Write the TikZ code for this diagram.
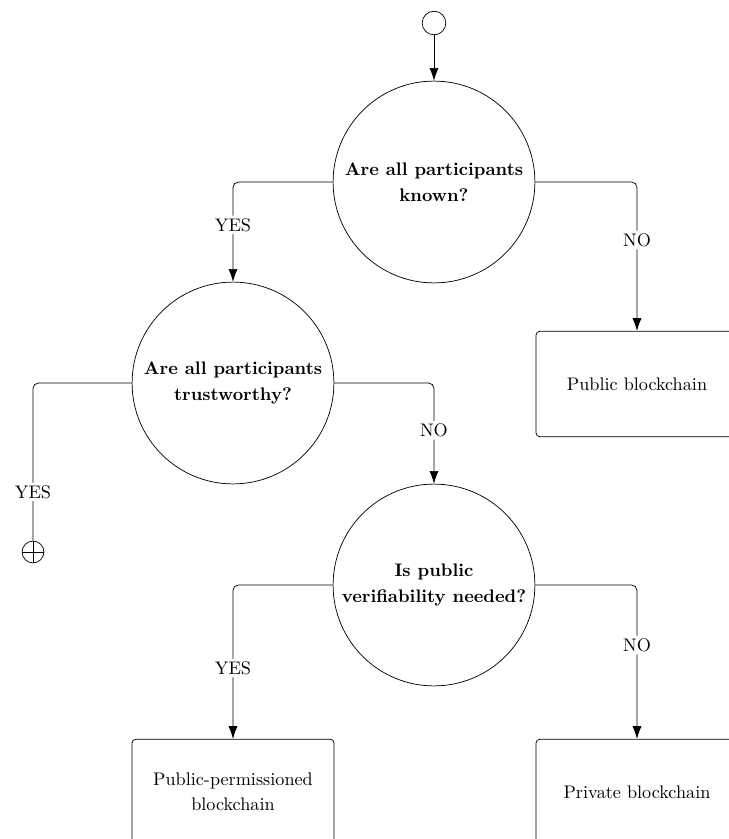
\documentclass[tikz,border=0pt]{standalone}
\usepackage{tikz}
\usetikzlibrary{arrows.meta}

\begin{document}
\begin{tikzpicture}[x=0.55pt,y=-0.55pt,
  question/.style={circle,draw,minimum size=111pt,inner sep=0pt,align=center,font=\bfseries},
  result/.style={rectangle,draw,rounded corners=2pt,minimum width=111pt,minimum height=58pt,align=center},
  flow/.style={-{Latex[length=7pt,width=5pt]},rounded corners=3pt},
  link/.style={rounded corners=3pt},
  answer/.style={fill=white,inner sep=1.5pt}]
                      \path[use as bounding box,clip] (0,0) rectangle (729,839);
                      \node[circle,draw,minimum size=13pt](start)at(434,23){};
                      \node[question](known)at(434,182){Are all participants\\[2pt]known?};
                      \node[question](trust)at(233,383){Are all participants\\[2pt]trustworthy?};
                      \node[question](verif)at(434,585){Is public\\[2pt]verifiability needed?};
                      \node[result](public)at(637,384){Public blockchain};
                      \node[result](permis)at(233,792){Public-permissioned\\[2pt]blockchain};
                      \node[result](private)at(637,792){Private blockchain};
                      \node[circle,draw,minimum size=12pt,inner sep=0pt,path picture={
                        \draw (path picture bounding box.north)--(path picture bounding box.south)
                              (path picture bounding box.west)--(path picture bounding box.east);}](stop)at(33,552){};
                      \draw[flow](start)--(known);
                      \draw[flow](known.west)-|node[answer,pos=0.715]{YES}(trust.north);
                      \draw[flow](known.east)-|node[answer,pos=0.695]{NO}(public.north);
                      \draw[link](trust.west)-|node[answer,pos=0.845]{YES}(stop.north);
                      \draw[flow](trust.east)-|node[answer,pos=0.735]{NO}(verif.north);
                      \draw[flow](verif.west)-|node[answer,pos=0.77]{YES}(permis.north);
                      \draw[flow](verif.east)-|node[answer,pos=0.695]{NO}(private.north);
                  \end{tikzpicture}
\end{document}
